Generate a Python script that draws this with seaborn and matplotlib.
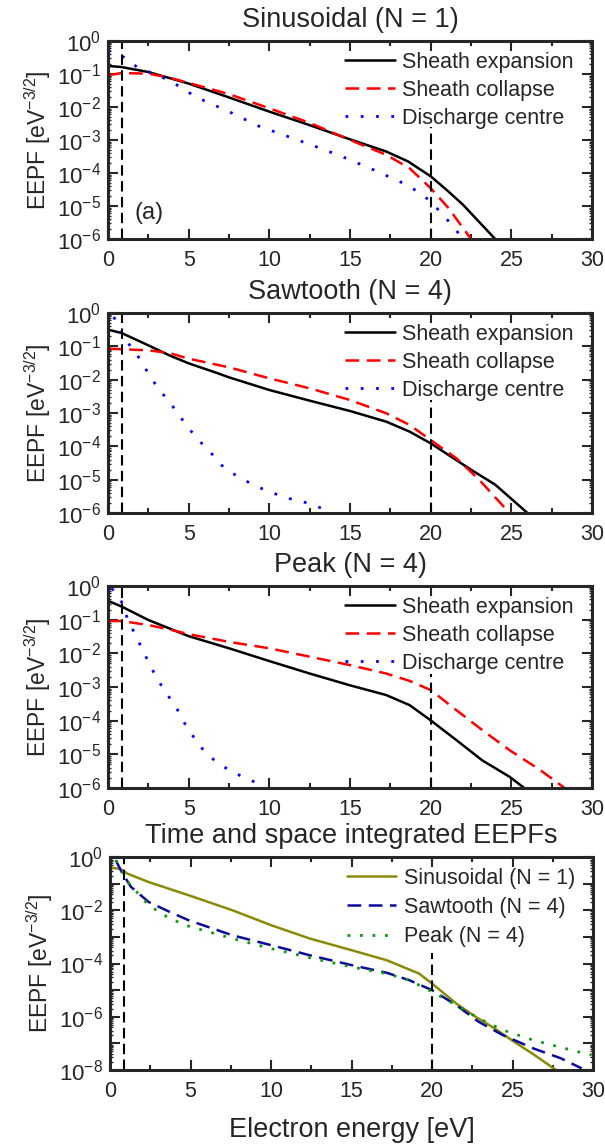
import numpy as np
import pandas as pd
import seaborn as sns
import matplotlib
matplotlib.use("Agg")
import matplotlib.pyplot as plt
from matplotlib.ticker import MultipleLocator, LogLocator, FuncFormatter, NullFormatter

sns.set_style("ticks")
plt.rcParams['font.family'] = ['Liberation Sans', 'DejaVu Sans']
plt.rcParams['mathtext.fontset'] = 'custom'
plt.rcParams['mathtext.rm'] = 'Liberation Sans'
plt.rcParams['mathtext.it'] = 'Liberation Sans'

# --- data (log10 of EEPF) ---
# Sinusoidal (N = 1)
sin_exp_x = [0, 0.84, 2.5, 5, 7.5, 10, 12.5, 15, 17.25, 18.6, 20, 21.1, 22, 24]
sin_exp_y = [-0.755, -0.79, -0.94, -1.29, -1.71, -2.14, -2.55, -2.98, -3.35, -3.65, -4.1, -4.56, -4.96, -6.0]
sin_col_x = [0, 0.84, 2.5, 3.8, 5, 7.5, 10, 12.5, 15, 17.25, 18.7, 20, 21.1, 22.5]
sin_col_y = [-1.04, -0.97, -0.99, -1.11, -1.27, -1.61, -2.04, -2.48, -3.0, -3.45, -3.86, -4.46, -5.06, -6.0]
sin_cen_x = [0, 0.95, 1.8, 3.8, 5.5, 7.5, 9.35, 10.5, 12.5, 14.4, 16.4, 18.3, 19.2, 20, 21.4, 22]
sin_cen_y = [-0.28, -0.48, -0.79, -1.19, -1.71, -2.14, -2.58, -2.78, -3.13, -3.48, -3.89, -4.31, -4.56, -4.86, -5.62, -6.0]

# Sawtooth (N = 4)
saw_exp_x = [0, 0.84, 2.5, 3.8, 5, 6.7, 7.5, 10, 12.5, 15, 17.25, 18.7, 20, 22.5, 24, 26]
saw_exp_y = [-0.5, -0.6, -0.97, -1.27, -1.51, -1.79, -1.93, -2.31, -2.63, -2.94, -3.26, -3.56, -3.91, -4.7, -5.15, -6.0]
saw_col_x = [0, 2.5, 3.8, 5, 7.5, 10, 12.5, 15, 17.25, 18.7, 20, 21.6, 23, 24.7, 25]
saw_col_y = [-1.07, -1.12, -1.2, -1.37, -1.63, -1.96, -2.26, -2.61, -3.01, -3.36, -3.81, -4.36, -5.0, -5.9, -6.0]
saw_cen_x = [0.36, 1.1, 1.7, 2.5, 3.1, 3.8, 4.4, 5.0, 5.75, 6.5, 7.2, 8.1, 9.1, 10.1, 11.1, 12.2, 13.2]
saw_cen_y = [-0.12, -0.82, -1.17, -1.81, -2.26, -2.66, -3.06, -3.46, -3.88, -4.26, -4.65, -4.92, -5.18, -5.38, -5.55, -5.68, -5.85]

# Peak (N = 4)
pk_exp_x = [0, 0.84, 2.5, 3.8, 5, 7.5, 10, 12.5, 15, 17.25, 18.7, 20, 21.6, 23.2, 24.9, 25.8]
pk_exp_y = [-0.44, -0.61, -1.01, -1.26, -1.49, -1.85, -2.23, -2.6, -2.95, -3.24, -3.54, -3.99, -4.58, -5.18, -5.67, -6.0]
pk_col_x = [0, 0.84, 2.5, 3.8, 5, 7.5, 10, 12.5, 15, 17.25, 18.7, 20, 21.6, 23.2, 24.9, 26.8, 28.3]
pk_col_y = [-1.04, -1.04, -1.16, -1.29, -1.43, -1.66, -1.85, -2.1, -2.35, -2.6, -2.82, -3.09, -3.69, -4.28, -4.88, -5.47, -6.0]
pk_cen_x = [0.24, 0.84, 1.2, 1.7, 2.15, 2.6, 3.1, 3.7, 4.3, 4.8, 5.3, 6.0, 6.8, 7.7, 8.6, 9.7]
pk_cen_y = [-0.07, -0.47, -0.96, -1.46, -1.9, -2.35, -2.8, -3.24, -3.67, -4.12, -4.48, -4.93, -5.26, -5.52, -5.72, -5.95]

# Time and space integrated
int_sin_x = [0, 0.6, 1.1, 2.4, 4.9, 7.6, 10, 12.4, 15, 17.2, 19.2, 20, 21.5, 22.7, 23.9, 25.1, 26.3, 27.7]
int_sin_y = [-0.4, -0.44, -0.63, -0.94, -1.44, -2.0, -2.56, -3.06, -3.5, -3.88, -4.38, -4.75, -5.5, -6.0, -6.44, -6.94, -7.41, -8.0]
int_saw_x = [0.36, 0.72, 1.3, 2.4, 3.7, 4.9, 7.6, 10, 12.4, 15, 17.2, 18.6, 20, 21.5, 22.9, 24.4, 26.3, 28, 29.3]
int_saw_y = [-0.12, -0.56, -1.12, -1.69, -2.06, -2.38, -2.94, -3.31, -3.69, -4.06, -4.35, -4.63, -5.0, -5.56, -6.19, -6.69, -7.19, -7.56, -7.94]
int_pk_x = [0.36, 1.1, 2.4, 3.7, 4.9, 7.6, 10, 12.4, 15, 17.2, 18.6, 20, 21.5, 22.9, 24.4, 26.3, 28, 29.9]
int_pk_y = [-0.12, -0.94, -1.81, -2.31, -2.6, -3.06, -3.44, -3.78, -4.13, -4.38, -4.63, -5.06, -5.56, -6.06, -6.5, -6.88, -7.15, -7.44]

titles = ["Sinusoidal (N = 1)", "Sawtooth (N = 4)", "Peak (N = 4)", "Time and space integrated EEPFs"]
labels_abc = ["Sheath expansion", "Sheath collapse", "Discharge centre"]
labels_int = ["Sinusoidal (N = 1)", "Sawtooth (N = 4)", "Peak (N = 4)"]
ymin_exp = [-6, -6, -6, -8]
vline_x = [0.85, 20]
vline_top = [-2.6, -2.6, -2.6, -3.6]

panels = [
    [(sin_exp_x, sin_exp_y), (sin_col_x, sin_col_y), (sin_cen_x, sin_cen_y)],
    [(saw_exp_x, saw_exp_y), (saw_col_x, saw_col_y), (saw_cen_x, saw_cen_y)],
    [(pk_exp_x, pk_exp_y), (pk_col_x, pk_col_y), (pk_cen_x, pk_cen_y)],
    [(int_sin_x, int_sin_y), (int_saw_x, int_saw_y), (int_pk_x, int_pk_y)],
]
styles_abc = [dict(color="black", linestyle="-", lw=1.8),
              dict(color="#ff0000", linestyle=(0, (5.5, 3)), lw=1.8),
              dict(color="#0000ff", linestyle=(0, (1, 4.5)), lw=2.0)]
styles_int = [dict(color="#8a8a0a", linestyle="-", lw=1.8),
              dict(color="#0a0aa0", linestyle=(0, (5.5, 3)), lw=1.8),
              dict(color="#109a10", linestyle=(0, (1, 3.5)), lw=2.0)]

W, H = 605, 1147
fig = plt.figure(figsize=(W / 100, H / 100), dpi=100)
boxes = [(108, 41, 592, 239), (108, 313, 592, 513), (108, 586, 592, 788), (110, 857, 593, 1070)]

for i, (series, box) in enumerate(zip(panels, boxes)):
    l, t, r, b = box
    ax = fig.add_axes([l / W, 1 - b / H, (r - l) / W, (b - t) / H])
    labels = labels_int if i == 3 else labels_abc
    styles = styles_int if i == 3 else styles_abc
    for (xs, ys), lab, st in zip(series, labels, styles):
        df = pd.DataFrame({"energy": xs, "eepf": 10.0 ** np.array(ys)})
        sns.lineplot(data=df, x="energy", y="eepf", ax=ax, label=lab, **st)
    ax.set_yscale("log")
    ax.set_xlim(0, 30)
    ax.set_ylim(10.0 ** ymin_exp[i], 1)
    ax.axvline(vline_x[0], color="black", linestyle=(0, (5, 2.6)), lw=1.5)
    ax.vlines(vline_x[1], 10.0 ** ymin_exp[i], 10.0 ** vline_top[i], color="black",
              linestyle=(0, (5, 2.6)), lw=1.5)

    ax.xaxis.set_major_locator(MultipleLocator(5))
    ax.xaxis.set_minor_locator(MultipleLocator(2.5))
    ax.yaxis.set_major_locator(LogLocator(base=10, numticks=20))
    ax.yaxis.set_minor_locator(LogLocator(base=10, subs=np.arange(2, 10), numticks=20))
    ax.yaxis.set_minor_formatter(NullFormatter())
    if i == 3:
        ax.yaxis.set_major_formatter(FuncFormatter(
            lambda v, p: "" if round(np.log10(v)) % 2 else r"$10^{%d}$" % round(np.log10(v))))
    else:
        ax.yaxis.set_major_formatter(FuncFormatter(lambda v, p: r"$10^{%d}$" % round(np.log10(v))))

    ax.tick_params(which="both", direction="in", top=True, right=True, width=1.5)
    ax.tick_params(axis="x", labelsize=15.5)
    ax.tick_params(axis="y", labelsize=16)
    ax.tick_params(which="major", length=7)
    ax.tick_params(axis="x", which="major", pad=8)
    ax.tick_params(axis="y", which="major", pad=5)
    ax.tick_params(which="minor", length=3.5)
    ax.tick_params(axis="y", which="minor", length=2.5, width=1)
    for sp in ax.spines.values():
        sp.set_linewidth(2.2)

    ax.set_title(titles[i], fontsize=19.5, pad=10)
    ax.set_ylabel(r"EEPF [eV$^{-3/2}$]", fontsize=16.5, labelpad=3)
    if i == 3:
        ax.set_xlabel("Electron energy [eV]", fontsize=19.5, labelpad=11)
    else:
        ax.set_xlabel("")
    if i == 0:
        ax.text(0.055, 0.1, "(a)", transform=ax.transAxes, fontsize=17)

    ax.legend(loc="upper right", frameon=False, fontsize=15.5, handlelength=2.3,
              labelspacing=0.38 if i == 3 else 0.33, handletextpad=0.35, borderaxespad=0.1,
              bbox_to_anchor=(0.985, 1.0))

fig.savefig("out.png", dpi=100)
